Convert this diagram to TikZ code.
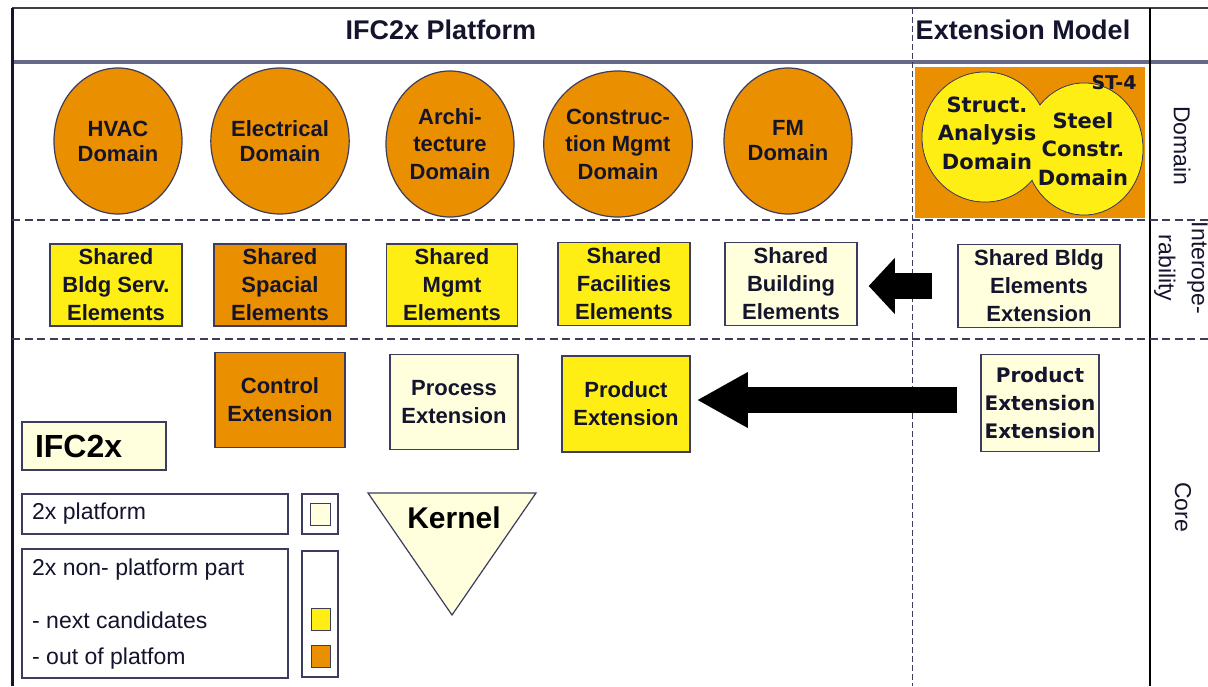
\documentclass[tikz,border=0pt]{standalone}
\usepackage{fontspec}
\setmainfont{Liberation Sans}
\newfontfamily\dvfont{DejaVu Sans}
\usetikzlibrary{shapes.geometric,arrows.meta}
\definecolor{ora}{RGB}{234,143,0}
\definecolor{yel}{RGB}{255,238,20}
\definecolor{crm}{RGB}{255,255,222}
\definecolor{bord}{RGB}{60,60,95}
\definecolor{txt}{RGB}{20,20,45}
\definecolor{hline}{RGB}{100,105,135}
\begin{document}
\begin{tikzpicture}[x=1pt,y=-1pt,
  dom/.style={ellipse, draw=bord, line width=1.2pt, fill=ora, minimum width=128pt,
    minimum height=146pt, inner sep=0pt, align=center, text=txt,
    font=\bfseries\fontsize{22}{25}\selectfont},
  dom3/.style={dom, font=\bfseries\fontsize{22}{27.5}\selectfont},
  box/.style={rectangle, draw=bord, line width=1.5pt, inner sep=0pt, align=center,
    text=txt, font=\bfseries\fontsize{22}{28}\selectfont},
  extbox/.style={box, font=\dvfont\bfseries\fontsize{20}{28}\selectfont},
  exttext/.style={inner sep=0pt, align=center, text=txt,
    font=\dvfont\bfseries\fontsize{21}{28.5}\selectfont},
  hdr/.style={inner sep=0pt, text=txt, font=\bfseries\fontsize{27}{30}\selectfont},
  lgd/.style={rectangle, draw=bord, line width=1.3pt, inner sep=0pt, fill=white},
  lgdtext/.style={inner sep=0pt, anchor=west, text=txt, font=\fontsize{23}{26}\selectfont},
  swatch/.style={rectangle, draw=bord, line width=1pt, inner sep=0pt,
    minimum width=19pt, minimum height=22pt},
  side/.style={inner sep=0pt, rotate=-90, align=center, text=txt,
    font=\fontsize{23}{33}\selectfont},
  blockarrow/.style={line width=26pt, black},
  hdash/.style={draw=bord, line width=1.5pt, dash pattern=on 8pt off 4.5pt},
  vdash/.style={draw=bord, line width=1pt, dash pattern=on 6pt off 3pt}
]
\useasboundingbox (0,0) rectangle (1208,686);
\fill[white] (0,0) rectangle (1208,686);

% frame lines
\draw[line width=2pt, draw=black!75] (12,8) -- (1208,8);
\draw[line width=3.5pt, draw=hline] (12,62) -- (1208,62);
\draw[line width=3pt, draw=txt] (12,8) -- (12,686);
\draw[line width=2pt, draw=black] (1150,8) -- (1150,686);
\draw[vdash] (912,8) -- (912,686);
\draw[hdash] (12,220) -- (1208,220);
\draw[hdash] (12,339) -- (1208,339);

% headers
\node[hdr] (hplat) at (441,30) {IFC2x Platform};
\node[hdr] (hext) at (1023,30) {Extension Model};

% side labels
\node[side] (sdom) at (1182,146) {Domain};
\node[side] (sint) at (1181,268) {Interope-\\rability};
\node[side] (score) at (1183,507) {Core};

% domain circles
\node[dom] (hvac) at (118,141) {HVAC\\Domain};
\node[dom] (elec) at (280,141) {Electrical\\Domain};
\node[dom3] (arch) at (450,144) {Archi-\\tecture\\Domain};
\node[dom3] (cons) at (618,144) {Construc-\\tion Mgmt\\Domain};
\node[dom] (fm) at (788,141) {FM\\Domain};

% extension domain box
\node[rectangle, fill=ora, minimum width=230pt, minimum height=151pt, inner sep=0pt] (extdom) at (1030,142.5) {};
\path[draw=bord, line width=1pt, fill=yel] (1084,149) ellipse [x radius=59, y radius=66];
\path[draw=bord, line width=1pt, fill=yel] (985,137) ellipse [x radius=63, y radius=65];
\fill[yel] (1084,149) ellipse [x radius=58.4, y radius=65.4];
\fill[yel] (985,137) ellipse [x radius=62.4, y radius=64.4];
\node[exttext] (sa) at (987,133) {Struct.\\Analysis\\Domain};
\node[exttext] (sc) at (1083,149) {Steel\\Constr.\\Domain};
\node[inner sep=0pt, text=txt, font=\dvfont\bfseries\fontsize{19}{22}\selectfont] (st4) at (1114,83) {ST-4};

% shared elements row
\node[box, fill=yel, minimum width=132pt, minimum height=82pt] (sbs) at (116,285) {Shared\\Bldg Serv.\\Elements};
\node[box, fill=ora, minimum width=132pt, minimum height=82pt] (ssp) at (280,285) {Shared\\Spacial\\Elements};
\node[box, fill=yel, minimum width=131pt, minimum height=82pt] (smg) at (452,285) {Shared\\Mgmt\\Elements};
\node[box, fill=yel, minimum width=132pt, minimum height=83pt] (sfa) at (624,284) {Shared\\Facilities\\Elements};
\node[box, fill=crm, minimum width=132pt, minimum height=83pt] (sbe) at (791,284) {Shared\\Building\\Elements};
\node[box, fill=crm, minimum width=162pt, minimum height=83pt] (sbx) at (1039,286) {Shared Bldg\\Elements\\Extension};

% core row
\node[box, fill=ora, minimum width=130pt, minimum height=95pt] (ctl) at (280,400) {Control\\Extension};
\node[box, fill=crm, minimum width=128pt, minimum height=95pt] (prc) at (454,402) {Process\\Extension};
\node[box, fill=yel, minimum width=128pt, minimum height=96pt] (prd) at (626,404) {Product\\Extension};
\node[extbox, fill=crm, minimum width=118pt, minimum height=97pt] (pee) at (1040,403) {Product\\Extension\\Extension};

% arrows
\draw[blockarrow, shorten <=25pt, shorten >=11pt,
  -{Triangle[length=26pt,width=56pt,line width=0pt]}] (sbx.west) -- (sbx.west -| sbe.east);
\draw[blockarrow, shorten <=23pt, shorten >=7pt,
  -{Triangle[length=50pt,width=56pt,line width=0pt]}] (pee.west |- 0,400) -- (prd.east |- 0,400);

% IFC2x label box
\node[box, fill=crm, minimum width=144pt, minimum height=48pt, text width=118pt, align=left,
  font=\bfseries\fontsize{32}{36}\selectfont, text=black] (ifc) at (94,446) {IFC2x};

% kernel
\filldraw[fill=crm, draw=bord, line width=1.2pt] (368,493) -- (536,493) -- (452,615) -- cycle;
\node[inner sep=0pt, text=black, font=\bfseries\fontsize{30}{32}\selectfont] (kern) at (454,518) {Kernel};

% legend
\node[lgd, minimum width=266pt, minimum height=40pt] (lg1) at (155,514) {};
\node[lgdtext] (lg1t) at (32,514) {2x platform};
\node[lgd, minimum width=36pt, minimum height=40pt] (sw1) at (320,514) {};
\node[swatch, fill=crm, minimum width=20pt] (sq0) at (320,514) {};
\node[lgd, minimum width=266pt, minimum height=129pt] (lg2) at (155,613.5) {};
\node[lgdtext] (lg2a) at (32,570) {2x non- platform part};
\node[lgdtext] (lg2b) at (32,620) {- next candidates};
\node[lgdtext] (lg2c) at (32,659) {- out of platfom};
\node[lgd, minimum width=36pt, minimum height=126pt] (sw2) at (320,614) {};
\node[swatch, fill=yel] (sq1) at (321,619) {};
\node[swatch, fill=ora] (sq2) at (321,656) {};
\end{tikzpicture}
\end{document}
